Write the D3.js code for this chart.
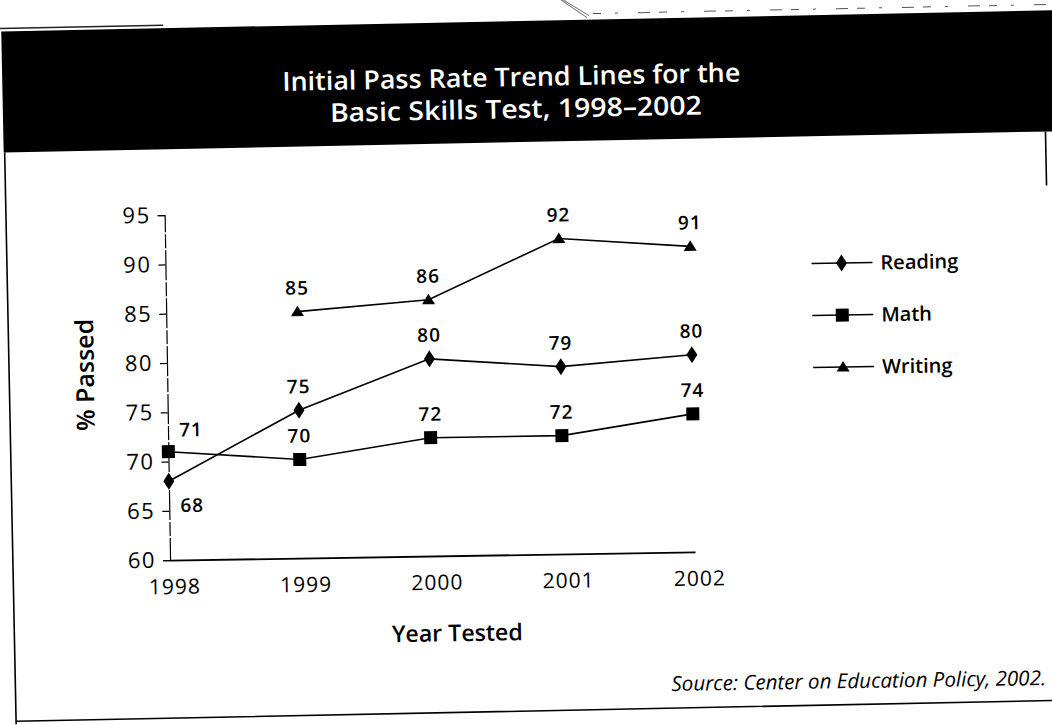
<!DOCTYPE html>
<html>
<meta charset="utf-8">
<head>
<script src="https://d3js.org/d3.v7.min.js"></script>
<style>
body { margin: 0; background: #fff; }
svg { display: block; }
text { font-family: "Open Sans", "Noto Sans", sans-serif; fill: #000; }
</style>
</head>
<body>
<script>
// values
var years = [1998, 1999, 2000, 2001, 2002];
var reading = [68, 75, 80, 79, 80];
var math = [71, 70, 72, 72, 74];
var writing = [null, 85, 86, 92, 91];
var seriesNames = ["Reading", "Math", "Writing"];
var yTicks = [60, 65, 70, 75, 80, 85, 90, 95];
var titleLines = ["Initial Pass Rate Trend Lines for the", "Basic Skills Test, 1998\u20132002"];

var W = 1052, H = 725;

var svg = d3.select("body").append("svg")
    .attr("width", W)
    .attr("height", H);

// the scan sits a little crooked on the page, the frame a bit more than the plot
var frame = svg.append("g")
    .attr("transform", "rotate(-1.15," + W / 2 + "," + H / 2 + ")");
var page = svg.append("g")
    .attr("transform", "rotate(-0.9," + W / 2 + "," + H / 2 + ")");

// bits of the page edge above the box
frame.append("line")
    .attr("x1", -10).attr("x2", 170).attr("y1", 18).attr("y2", 18)
    .attr("stroke", "#222").attr("stroke-width", 1.5);
frame.append("line")
    .attr("x1", 600).attr("x2", 1060).attr("y1", 15).attr("y2", 15)
    .attr("stroke", "#555").attr("stroke-width", 1)
    .attr("stroke-dasharray", "8,14,3,20,12,9");
frame.append("path")
    .attr("d", "M560,-6L596,17M563,-3L594,19")
    .attr("stroke", "#777").attr("fill", "none").attr("stroke-width", 1);

// title band
frame.append("rect")
    .attr("x", 8).attr("y", 21)
    .attr("width", 1060).attr("height", 121)
    .attr("fill", "#000");

// box outline
frame.append("path")
    .attr("d", "M9,142V714M9,711H1062M1050,142V196")
    .attr("stroke", "#000").attr("fill", "none").attr("stroke-width", 1.6);

function fitWidth(sel, target) {
  var w = sel.node().getComputedTextLength();
  var fs = parseFloat(sel.attr("font-size"));
  sel.attr("font-size", fs * target / w);
}

var title = frame.append("g");
title.append("text")
    .attr("x", 517).attr("y", 86)
    .attr("text-anchor", "middle")
    .attr("font-size", 26).attr("font-weight", 600)
    .attr("textLength", 458).attr("lengthAdjust", "spacingAndGlyphs")
    .style("fill", "#fff")
    .text(titleLines[0]);
title.append("text")
    .attr("x", 521).attr("y", 118)
    .attr("text-anchor", "middle")
    .attr("font-size", 26).attr("font-weight", 600)
    .attr("textLength", 372).attr("lengthAdjust", "spacingAndGlyphs")
    .style("fill", "#fff")
    .text(titleLines[1]);

var x = d3.scaleLinear().domain([1998, 2002]).range([167, 692]);
var y = d3.scaleLinear().domain([60, 95]).range([554.5, 209.5]);

// y axis
var yAxis = page.append("g")
    .attr("transform", "translate(" + x(1998) + ",0)")
    .call(d3.axisLeft(y).tickValues(yTicks).tickSize(7).tickSizeOuter(7).tickPadding(7));
yAxis.select(".domain").attr("stroke-width", 1.2).attr("stroke-dasharray", "30,2,14,2");
yAxis.selectAll(".tick line").attr("stroke-width", 1.2);
yAxis.selectAll(".tick text")
    .attr("font-size", 22)
    .style("letter-spacing", "1.5px")
    .style("font-family", "'Open Sans', sans-serif");

// x axis
var xAxis = page.append("g")
    .attr("transform", "translate(0," + y(60) + ")")
    .call(d3.axisBottom(x).tickValues(years).tickFormat(d3.format("d")).tickSize(0).tickSizeOuter(0).tickPadding(19));
xAxis.select(".domain").attr("stroke-width", 1.8);
xAxis.selectAll(".tick text")
    .attr("font-size", 21)
    .attr("dx", 4)
    .style("letter-spacing", "1px")
    .style("font-family", "'Open Sans', sans-serif");

// axis titles
var yt = page.append("text")
    .attr("transform", "translate(85,368) rotate(-90)")
    .attr("text-anchor", "middle")
    .attr("dy", "0.35em")
    .attr("font-size", 23).attr("font-weight", 600)
    .text("% Passed");
fitWidth(yt, 112);

var xt = page.append("text")
    .attr("x", 453).attr("y", 632)
    .attr("dy", "0.35em")
    .attr("text-anchor", "middle")
    .attr("font-size", 23).attr("font-weight", 600)
    .text("Year Tested");
fitWidth(xt, 131);

var src = page.append("text")
    .attr("x", 1041).attr("y", 686)
    .attr("dy", "0.35em")
    .attr("text-anchor", "end")
    .attr("font-size", 16).attr("font-style", "italic")
    .text("Source: Center on Education Policy, 2002.");
fitWidth(src, 375);

// markers
var symbols = {
  Reading: d3.symbol().type({draw: function(ctx) {
    ctx.moveTo(0, -8.5); ctx.lineTo(5.5, 0); ctx.lineTo(0, 8.5); ctx.lineTo(-5.5, 0); ctx.closePath();
  }})(),
  Math: d3.symbol().type({draw: function(ctx) { ctx.rect(-6.5, -6.5, 13, 13); }})(),
  Writing: d3.symbol().type({draw: function(ctx) {
    ctx.moveTo(0, -6); ctx.lineTo(6.5, 4.5); ctx.lineTo(-6.5, 4.5); ctx.closePath();
  }})()
};

var series = [
  {name: "Reading", values: reading},
  {name: "Math", values: math},
  {name: "Writing", values: writing}
];

var line = d3.line()
    .defined(function(d) { return d.v != null; })
    .x(function(d) { return x(d.year); })
    .y(function(d) { return y(d.v); });

series.forEach(function(s) {
  var pts = years.map(function(yr, i) { return {year: yr, v: s.values[i], name: s.name}; });
  page.append("path")
      .datum(pts)
      .attr("d", line)
      .attr("fill", "none")
      .attr("stroke", "#000")
      .attr("stroke-width", 1.6);
  var ok = pts.filter(function(d) { return d.v != null; });
  page.selectAll(null)
      .data(ok)
      .enter().append("path")
      .attr("d", symbols[s.name])
      .attr("transform", function(d) { return "translate(" + x(d.year) + "," + y(d.v) + ")"; })
      .attr("fill", "#000");
  page.selectAll(null)
      .data(ok)
      .enter().append("text")
      .attr("x", function(d) {
        return d.year == 1998 ? x(d.year) + 23 : x(d.year);
      })
      .attr("y", function(d) {
        if (d.year == 1998 && s.name == "Reading") return y(d.v) + 31;
        if (d.year == 1998) return y(d.v) - 15;
        return y(d.v) - 17;
      })
      .attr("text-anchor", "middle")
      .attr("font-size", 19).attr("font-weight", 600)
      .style("letter-spacing", "1px")
      .text(function(d) { return d.v; });
});

// legend
var legend = page.append("g");
var legendY = d3.scalePoint().domain(seriesNames).range([268, 372]);
seriesNames.forEach(function(n) {
  var g = legend.append("g").attr("transform", "translate(0," + legendY(n) + ")");
  g.append("line")
      .attr("x1", 813).attr("x2", 874)
      .attr("stroke", "#000").attr("stroke-width", 1.6);
  g.append("path")
      .attr("d", symbols[n])
      .attr("transform", "translate(843,0)")
      .attr("fill", "#000");
  g.append("text")
      .attr("x", 882).attr("dy", "0.35em")
      .attr("font-size", 20).attr("font-weight", 600)
      .text(n);
});
</script>
</body>
</html>
